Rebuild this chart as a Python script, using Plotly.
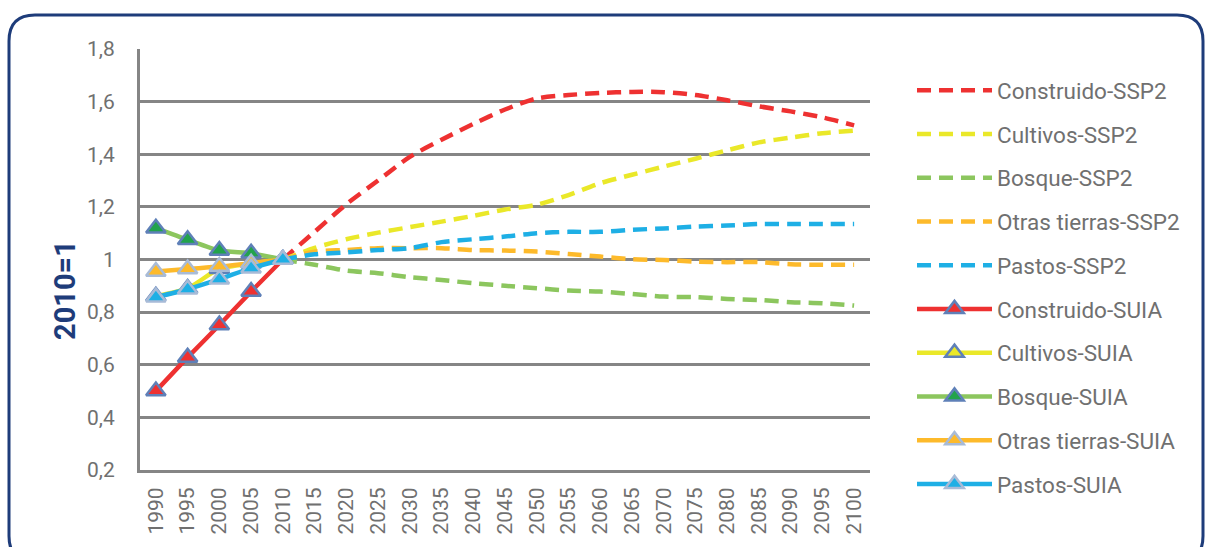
import plotly.graph_objects as go

years = [str(y) for y in range(1990, 2101, 5)]
proj_years = [str(y) for y in range(2010, 2101, 5)]
hist_years = ["1990", "1995", "2000", "2005", "2010"]

construido_ssp2 = [1.00, 1.105, 1.21, 1.30, 1.39, 1.455, 1.515, 1.57, 1.612, 1.625, 1.633, 1.637, 1.636, 1.625, 1.605, 1.582, 1.563, 1.54, 1.51]
cultivos_ssp2 = [1.00, 1.044, 1.077, 1.102, 1.123, 1.144, 1.166, 1.19, 1.208, 1.245, 1.29, 1.322, 1.353, 1.383, 1.415, 1.445, 1.463, 1.48, 1.49]
bosque_ssp2 = [1.00, 0.98, 0.958, 0.948, 0.933, 0.922, 0.91, 0.90, 0.891, 0.882, 0.878, 0.869, 0.859, 0.857, 0.85, 0.846, 0.838, 0.834, 0.825]
otras_ssp2 = [1.00, 1.03, 1.036, 1.043, 1.043, 1.043, 1.036, 1.034, 1.03, 1.021, 1.011, 1.001, 0.998, 0.992, 0.99, 0.99, 0.982, 0.98, 0.98]
pastos_ssp2 = [1.00, 1.02, 1.027, 1.036, 1.043, 1.066, 1.077, 1.087, 1.10, 1.105, 1.105, 1.113, 1.118, 1.125, 1.129, 1.135, 1.135, 1.135, 1.135]

construido_suia = [0.50, 0.628, 0.751, 0.878, 1.00]
cultivos_suia = [0.86, 0.89, 0.965, 0.985, 1.00]
bosque_suia = [1.119, 1.075, 1.034, 1.024, 1.00]
otras_suia = [0.954, 0.964, 0.973, 0.986, 1.00]
pastos_suia = [0.857, 0.887, 0.925, 0.967, 1.00]

y_ticks = [0.2, 0.4, 0.6, 0.8, 1.0, 1.2, 1.4, 1.6, 1.8]
y_ticktext = ["0,2", "0,4", "0,6", "0,8", "1", "1,2", "1,4", "1,6", "1,8"]
y_title = "2010=1"

RED = "#EE3131"
YEL = "#EAE829"
GRN = "#8CC65E"
GRN_M = "#22A34C"
ORA = "#FDBA2B"
BLU = "#1EAFE5"
OUT_D = "#5F80B8"
OUT_L = "#A8BBD7"

fig = go.Figure()

ssp2 = [
    ("Construido-SSP2", construido_ssp2, RED),
    ("Cultivos-SSP2", cultivos_ssp2, YEL),
    ("Bosque-SSP2", bosque_ssp2, GRN),
    ("Otras tierras-SSP2", otras_ssp2, ORA),
    ("Pastos-SSP2", pastos_ssp2, BLU),
]
for name, vals, col in ssp2:
    fig.add_trace(go.Scatter(
        x=proj_years, y=vals, name=name, mode="lines", legendgroup=name,
        line=dict(color=col, width=4.5, dash="14px,8px", shape="spline", smoothing=0.8),
    ))

suia = [
    ("Construido-SUIA", construido_suia, RED, RED, OUT_D),
    ("Cultivos-SUIA", cultivos_suia, YEL, YEL, OUT_D),
    ("Bosque-SUIA", bosque_suia, GRN, GRN_M, OUT_D),
    ("Otras tierras-SUIA", otras_suia, ORA, ORA, OUT_L),
    ("Pastos-SUIA", pastos_suia, BLU, BLU, OUT_L),
]
for name, vals, col, mfill, mline in suia:
    fig.add_trace(go.Scatter(
        x=hist_years, y=vals, name=name, mode="lines+markers", legendgroup=name,
        line=dict(color=col, width=4.5, shape="spline", smoothing=0.6),
        marker=dict(symbol="triangle-up", size=17, color=mfill,
                    line=dict(color=mline, width=2.5)),
    ))

# geometry helpers (pixel -> paper)
L, R, T, B = 140, 336, 49, 77
W, H = 1206, 547
pw, ph = W - L - R, H - T - B


def px(x):
    return (x - L) / pw


def py(y):
    return (H - B - y) / ph


x0, y0, x1, y1, rr = 9, 15, 1203, 562, 26
path = (
    f"M {px(x0 + rr)},{py(y0)} L {px(x1 - rr)},{py(y0)} "
    f"Q {px(x1)},{py(y0)} {px(x1)},{py(y0 + rr)} "
    f"L {px(x1)},{py(y1 - rr)} Q {px(x1)},{py(y1)} {px(x1 - rr)},{py(y1)} "
    f"L {px(x0 + rr)},{py(y1)} Q {px(x0)},{py(y1)} {px(x0)},{py(y1 - rr)} "
    f"L {px(x0)},{py(y0 + rr)} Q {px(x0)},{py(y0)} {px(x0 + rr)},{py(y0)} Z"
)

fig.update_layout(
    width=W, height=H,
    margin=dict(l=L, r=R, t=T, b=B, pad=0),
    paper_bgcolor="white", plot_bgcolor="white",
    font=dict(family="Roboto, sans-serif", color="#707070"),
    showlegend=True,
    legend=dict(
        x=px(912), y=py(69), xanchor="left", yanchor="top",
        font=dict(size=22.5, color="#707070"),
        itemwidth=75, tracegroupgap=11.5, maxheight=520,
        bgcolor="rgba(0,0,0,0)",
    ),
    shapes=[dict(type="path", xref="paper", yref="paper", path=path,
                 line=dict(color="#1E3C7A", width=3), layer="above")],
    annotations=[dict(text=f"<b>{y_title}</b>", xref="paper", yref="paper",
                      x=px(65), y=py(290), textangle=-90, showarrow=False,
                      xanchor="center", yanchor="middle",
                      font=dict(size=29, color="#1E3C7A"))],
    xaxis=dict(
        type="category", categoryorder="array", categoryarray=years,
        range=[-0.5, len(years) - 0.5],
        showgrid=False, showline=True, linecolor="#858585", linewidth=3,
        ticks="", tickangle=-90, tickfont=dict(size=21, color="#707070"),
        ticklabelstandoff=6, zeroline=False,
    ),
    yaxis=dict(
        range=[0.2, 1.8], tickvals=y_ticks, ticktext=y_ticktext,
        showgrid=True, gridcolor="#858585", gridwidth=2.5,
        showline=True, linecolor="#858585", linewidth=3,
        ticks="", tickfont=dict(size=21, color="#707070"),
        ticklabelstandoff=18, zeroline=False,
    ),
)

fig.write_html("out.html")
